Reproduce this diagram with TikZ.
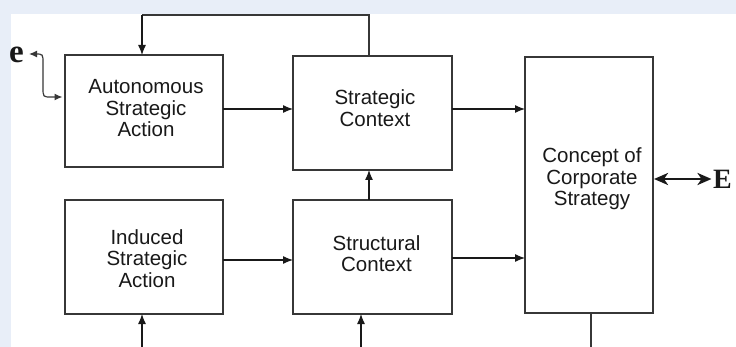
\documentclass[tikz,border=0pt]{standalone}
\usepackage{fontspec}
\setmainfont{Liberation Sans}
\newfontfamily\serifbf{Liberation Serif}
\usetikzlibrary{arrows.meta,calc}
\definecolor{bgblue}{RGB}{232,238,248}
\definecolor{edge}{RGB}{55,55,55}
\definecolor{ink}{RGB}{25,25,25}
\tikzset{
  box/.style={draw=edge, line width=1.7pt, inner sep=0pt, outer sep=0pt, fill=white},
  lbl/.style={align=center, inner sep=0pt, text=ink, font=\fontsize{20.5}{21.5}\selectfont},
  arr/.style={-{Latex[length=10pt,width=8pt]}, line width=1.2pt, draw=ink},
  plain/.style={line width=1.4pt, draw=edge},
  dbl/.style={{Stealth[length=14pt,width=12pt,inset=4pt]}-{Stealth[length=14pt,width=12pt,inset=4pt]}, line width=2.6pt, draw=ink},
  wav/.style={{Latex[length=8pt,width=7pt]}-{Latex[length=8pt,width=7pt]}, line width=1.2pt, draw=edge},
}
\begin{document}
\begin{tikzpicture}[x=1pt,y=-1pt]
  \useasboundingbox (0,0) rectangle (736,347);
  \fill[white] (0,0) rectangle (736,347);
  \fill[bgblue] (0,0) rectangle (736,14);
  \fill[bgblue] (0,0) rectangle (11,347);

  % boxes
  \node[box, minimum width=158pt, minimum height=112pt] (auto) at (144,111) {};
  \node[box, minimum width=159pt, minimum height=114pt] (strat) at (372.5,113) {};
  \node[box, minimum width=128pt, minimum height=256pt] (concept) at (589,185) {};
  \node[box, minimum width=158pt, minimum height=114pt] (induced) at (144,257) {};
  \node[box, minimum width=159pt, minimum height=114pt] (struct) at (372.5,257) {};

  % texts
  \node[lbl] (autoT) at (146,108.5) {Autonomous\\Strategic\\Action};
  \node[lbl] (stratT) at (375,108) {Strategic\\Context};
  \node[lbl] (conceptT) at (592,179) {Concept of\\Corporate\\Strategy};
  \node[lbl] (inducedT) at (147,258.5) {Induced\\Strategic\\Action};
  \node[lbl] (structT) at (376.5,253.5) {Structural\\Context};

  % e and E
  \node[inner sep=0pt, anchor=base west, text=ink, font=\serifbf\bfseries\fontsize{33}{33}\selectfont] (e) at (9,63) {e};
  \node[inner sep=0pt, anchor=west, text=ink, font=\serifbf\bfseries\fontsize{28}{28}\selectfont] (E) at (713,179) {E};

  % helper coordinates
  \coordinate (fbL) at (142,15);
  \coordinate (fbR) at (369,15);
  \coordinate (yA) at (0,109);
  \coordinate (yB) at (0,260);
  \coordinate (yC) at (0,258);
  \coordinate (yW) at (0,97);
  \coordinate (b1) at (142,347);
  \coordinate (b2) at (361,347);
  \coordinate (b3) at (591,347);
  \coordinate (eA) at (29,54);

  % feedback loop
  \draw[plain] (strat.north -| fbR) -- (fbR) -- (fbL);
  \draw[arr] (fbL) -- (auto.north -| fbL);

  % horizontal arrows
  \draw[arr] (auto.east |- yA) -- (strat.west |- yA);
  \draw[arr] (strat.east |- yA) -- (concept.west |- yA);
  \draw[arr] (induced.east |- yB) -- (struct.west |- yB);
  \draw[arr] (struct.east |- yC) -- (concept.west |- yC);

  % vertical arrows
  \draw[arr] (struct.north -| fbR) -- (strat.south -| fbR);
  \draw[arr] (b1) -- (induced.south -| b1);
  \draw[arr] (b2) -- (struct.south -| b2);
  \draw[plain] (concept.south -| b3) -- (b3);

  % E double arrow
  \draw[dbl, shorten <=1pt, shorten >=1.5pt] (concept.east |- E.west) -- (E.west);

  % e wavy arrow
  \draw[wav, shorten >=2.5pt] (eA) -- (35,54) .. controls (43,54) .. (43,63) -- (43,87) .. controls (43,97) .. (51,97) -- (auto.west |- yW);
\end{tikzpicture}
\end{document}
